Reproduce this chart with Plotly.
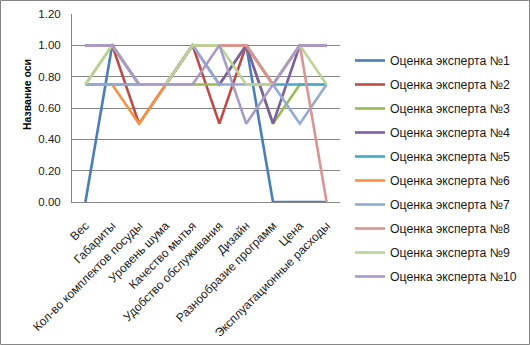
import plotly.graph_objects as go

categories = [
    "Вес", "Габариты", "Кол-во комплектов посуды", "Уровень шума",
    "Качество мытья", "Удобство обслуживания", "Дизайн",
    "Разнообразие программ", "Цена", "Эксплуатационные расходы",
]

expert_1 = [0.00, 1.00, 0.75, 0.75, 1.00, 1.00, 1.00, 0.00, 0.00, 0.00]
expert_2 = [1.00, 1.00, 0.50, 0.75, 1.00, 0.50, 1.00, 0.75, 1.00, 1.00]
expert_3 = [0.75, 1.00, 0.75, 0.75, 0.75, 0.75, 1.00, 0.50, 0.75, 0.75]
expert_4 = [1.00, 1.00, 0.75, 0.75, 1.00, 0.75, 1.00, 0.50, 1.00, 1.00]
expert_5 = [0.75, 0.75, 0.75, 0.75, 1.00, 1.00, 1.00, 0.75, 0.75, 0.75]
expert_6 = [0.75, 0.75, 0.50, 0.75, 1.00, 1.00, 1.00, 0.75, 1.00, 1.00]
expert_7 = [0.75, 0.75, 0.75, 0.75, 1.00, 0.75, 0.75, 0.75, 0.50, 0.75]
expert_8 = [1.00, 1.00, 0.75, 0.75, 1.00, 1.00, 1.00, 0.75, 1.00, 0.00]
expert_9 = [0.75, 1.00, 0.75, 0.75, 1.00, 1.00, 0.75, 0.75, 1.00, 0.75]
expert_10 = [1.00, 1.00, 0.75, 0.75, 0.75, 1.00, 0.50, 0.75, 1.00, 1.00]

series = [expert_1, expert_2, expert_3, expert_4, expert_5,
          expert_6, expert_7, expert_8, expert_9, expert_10]
names = [f"Оценка эксперта №{i}" for i in range(1, 11)]
colors = ["#4A7EBB", "#BE4B48", "#98B954", "#7D5FA0", "#46AAC5",
          "#F69240", "#94ABD3", "#D99594", "#BCD397", "#A99BC7"]

y_ticks = [0.0, 0.2, 0.4, 0.6, 0.8, 1.0, 1.2]

# plot-area pixel box
W, H = 530, 345
L, R, T, B = 72, 190, 14, 143
pw, ph = W - L - R, H - T - B

fig = go.Figure()
for vals, name, col in zip(series, names, colors):
    fig.add_trace(go.Scatter(
        x=categories, y=vals, name=name, mode="lines",
        line=dict(color=col, width=2.6),
        legendgroup=name,
    ))

font_family = "Liberation Sans, Arial, sans-serif"
text_color = "#1a1a1a"

fig.update_layout(
    width=W, height=H,
    margin=dict(l=L, r=R, t=T, b=B, autoexpand=False),
    paper_bgcolor="white", plot_bgcolor="white",
    font=dict(family=font_family, size=12, color=text_color),
    showlegend=True,
    legend=dict(
        x=(350 - L) / pw, y=1 - (46 - T) / ph,
        xanchor="left", yanchor="top",
        font=dict(size=12.3, color=text_color),
        tracegroupgap=5,
        itemwidth=30,
        maxheight=330,
        bgcolor="rgba(0,0,0,0)",
    ),
    xaxis=dict(
        type="category", range=[-0.5, 9.5], automargin=False,
        tickangle=-45, showgrid=False,
        showline=True, linecolor="#868686", linewidth=1,
        ticks="outside", ticklen=11, tickcolor="rgba(0,0,0,0)",
        tickfont=dict(size=12, color=text_color),
        fixedrange=True,
    ),
    yaxis=dict(
        range=[0, 1.2], tickvals=y_ticks, tickformat=".2f", automargin=False,
        showgrid=True, gridcolor="#868686", gridwidth=1,
        showline=True, linecolor="#868686", linewidth=1,
        ticks="outside", ticklen=8, tickcolor="rgba(0,0,0,0)",
        tickfont=dict(size=11.5, color=text_color),
        zeroline=False, fixedrange=True,
    ),
    annotations=[dict(
        text="<b>Название оси</b>", textangle=-90,
        xref="paper", yref="paper",
        x=(27 - L) / pw, y=1 - (95 - T) / ph,
        xanchor="center", yanchor="middle",
        showarrow=False,
        font=dict(family="Liberation Sans Narrow, Liberation Sans, sans-serif",
                  size=10.5, color="#000000"),
    )],
    shapes=[dict(
        type="rect", xref="paper", yref="paper",
        x0=(0.5 - L) / pw, x1=(W - 0.5 - L) / pw,
        y0=1 - (H - 0.5 - T) / ph, y1=1 - (0.5 - T) / ph,
        line=dict(color="#868686", width=1), layer="below",
    )],
)

fig.write_html("out.html")
